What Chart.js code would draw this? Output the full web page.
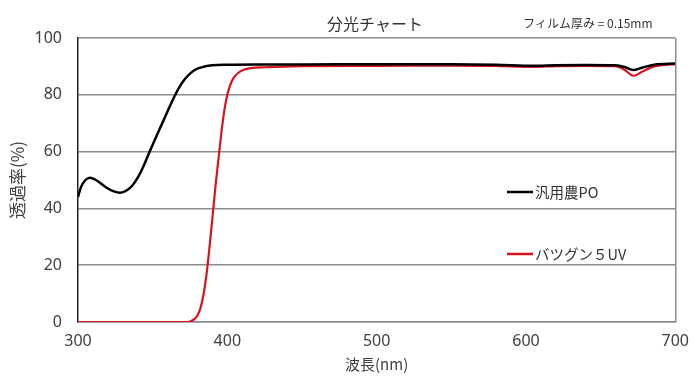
<!DOCTYPE html>
<html>
<head>
<meta charset="utf-8">
<script src="https://cdn.jsdelivr.net/npm/chart.js@4.4.0/dist/chart.umd.min.js"></script>
<style>
  html, body { margin: 0; padding: 0; background: #fff; }
  #wrap { width: 699px; height: 378px; position: relative; }
</style>
</head>
<body>
<div id="wrap"><canvas id="spectrum"></canvas></div>
<script>
// 分光チャート - data
const chartTitle = '分光チャート';
const noteText = 'フィルム厚み = 0.15mm';
const seriesNames = ['汎用農PO', 'バツグン５UV'];
const xTicks = [300, 400, 500, 600, 700];
const yTicks = [0, 20, 40, 60, 80, 100];

// 汎用農PO
const waveBlack = [300, 302, 305, 308, 312, 316, 320, 324, 328, 332, 336, 340, 344, 348, 352, 356, 360, 364, 368, 372, 376, 380, 385, 390, 400, 420, 450, 500, 550, 580, 605, 620, 640, 660, 666, 672, 678, 686, 700];
const transBlack = [44, 47.5, 50, 50.8, 50, 48.5, 47, 46, 45.5, 46.2, 47.8, 50.8, 55, 60, 64.8, 69.5, 74.2, 78.8, 82.8, 85.8, 87.9, 89.2, 90, 90.4, 90.6, 90.7, 90.7, 90.8, 90.8, 90.6, 90.2, 90.4, 90.5, 90.4, 89.8, 88.7, 89.6, 90.6, 91];

// バツグン５UV
const waveRed = [300, 350, 372, 375, 378, 380, 382, 384, 386, 388, 390, 392, 394, 396, 398, 400, 402, 404, 407, 411, 416, 425, 450, 500, 550, 580, 605, 620, 640, 660, 666, 672, 678, 686, 700];
const transRed = [0, 0, 0, 0.2, 1, 2.3, 4.8, 9.5, 16.5, 26, 36.5, 47.5, 57, 66.5, 74.5, 80, 83.5, 85.8, 87.6, 88.8, 89.4, 89.7, 90.1, 90.2, 90.3, 90.2, 89.8, 90.1, 90.2, 90.1, 88.8, 86.7, 88.2, 90, 90.8];

const colors = {
  black: '#000000',
  red: '#d9141c',
  grid: '#8c8c8c',
  text: '#404040'
};

function toPoints(xs, ys) {
  return xs.map(function(x, i) { return { x: x, y: ys[i] }; });
}

// title, note and in-plot legend
const overlayText = {
  id: 'overlayText',
  afterDraw: function(chart) {
    const ctx = chart.ctx;
    ctx.save();
    ctx.fillStyle = '#333';
    ctx.textBaseline = 'middle';
    ctx.textAlign = 'center';
    ctx.font = '16px "Noto Sans CJK JP"';
    ctx.fillText(chartTitle, 375, 24);
    ctx.textAlign = 'left';
    ctx.font = '12px "Noto Sans CJK JP"';
    ctx.fillText(noteText, 523, 23);

    const rows = [192, 254];
    chart.data.datasets.forEach(function(ds, i) {
      const y = rows[i];
      ctx.strokeStyle = ds.borderColor;
      ctx.lineWidth = 2.5;
      ctx.beginPath();
      ctx.moveTo(507, y);
      ctx.lineTo(533, y);
      ctx.stroke();
      ctx.fillStyle = '#333';
      ctx.font = '14.5px "Noto Sans CJK JP"';
      ctx.fillText(ds.label, 535, y);
    });
    ctx.restore();
  }
};

new Chart(document.getElementById('spectrum'), {
  type: 'scatter',
  data: {
    datasets: [{
      label: seriesNames[0],
      data: toPoints(waveBlack, transBlack),
      borderColor: colors.black,
      borderWidth: 2.5,
      showLine: true,
      pointRadius: 0,
      cubicInterpolationMode: 'monotone'
    }, {
      label: seriesNames[1],
      data: toPoints(waveRed, transRed),
      borderColor: colors.red,
      borderWidth: 2.2,
      showLine: true,
      pointRadius: 0,
      cubicInterpolationMode: 'monotone'
    }]
  },
  options: {
    responsive: true,
    maintainAspectRatio: false,
    animation: false,
    layout: { padding: { top: 38, right: 23, left: 0, bottom: 0 } },
    plugins: {
      legend: { display: false },
      title: { display: false },
      tooltip: { enabled: false }
    },
    scales: {
      x: {
        type: 'linear',
        min: 300,
        max: 700,
        afterBuildTicks: function(scale) {
          scale.ticks = xTicks.map(function(v) { return { value: v }; });
        },
        afterFit: function(scale) { scale.height = 56; },
        grid: {
          drawTicks: false,
          lineWidth: 1.5,
          color: function(c) { return c.tick && c.tick.value === 700 ? colors.grid : 'rgba(0,0,0,0)'; }
        },
        border: { display: true, color: colors.grid, width: 1.5 },
        ticks: {
          padding: 10,
          color: colors.text,
          font: { size: 16, family: '"Noto Sans", sans-serif' }
        },
        title: {
          display: true,
          text: '波長(nm)',
          color: colors.text,
          padding: { top: 0, bottom: 5 },
          font: { size: 15, family: '"Noto Sans CJK JP"' }
        }
      },
      y: {
        min: 0,
        max: 100,
        afterBuildTicks: function(scale) {
          scale.ticks = yTicks.map(function(v) { return { value: v }; });
        },
        afterFit: function(scale) { scale.width = 78; },
        grid: {
          drawTicks: false,
          lineWidth: 1.5,
          color: colors.grid
        },
        border: { display: true, color: '#222', width: 1.5 },
        ticks: {
          padding: 16,
          color: colors.text,
          font: { size: 16, family: '"Noto Sans", sans-serif' }
        },
        title: {
          display: true,
          text: '透過率(%)',
          color: colors.text,
          padding: { top: 7, bottom: 0 },
          font: { size: 17, family: '"Noto Sans CJK JP"' }
        }
      }
    }
  },
  plugins: [overlayText]
});
</script>
</body>
</html>
